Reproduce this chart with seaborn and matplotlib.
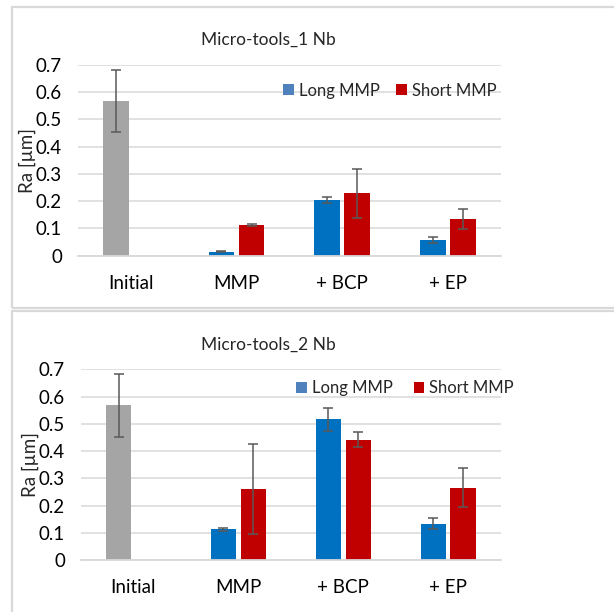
import numpy as np
import pandas as pd
import matplotlib
matplotlib.use("Agg")
import matplotlib.pyplot as plt
from matplotlib.patches import Rectangle, Patch
import seaborn as sns

# ---------------- data ----------------
categories = ["Initial", "MMP", "+ BCP", "+ EP"]
series_names = ["Long MMP", "Short MMP"]

tools1_long = [0.568, 0.015, 0.204, 0.056]
tools1_long_err = [0.115, 0.003, 0.012, 0.011]
tools1_short = [np.nan, 0.112, 0.229, 0.134]
tools1_short_err = [np.nan, 0.003, 0.090, 0.037]

tools2_long = [0.568, 0.113, 0.516, 0.133]
tools2_long_err = [0.115, 0.005, 0.041, 0.021]
tools2_short = [np.nan, 0.261, 0.442, 0.265]
tools2_short_err = [np.nan, 0.164, 0.028, 0.071]

titles = ["Micro-tools_1 Nb", "Micro-tools_2 Nb"]
yticks = [0, 0.1, 0.2, 0.3, 0.4, 0.5, 0.6, 0.7]
ytick_labels = ["0", "0.1", "0.2", "0.3", "0.4", "0.5", "0.6", "0.7"]

BLUE = "#0070C0"
RED = "#C00000"
GRAY = "#A5A5A5"
LEGEND_BLUE = "#4F81BD"
GRID = "#D9D9D9"
ERR = "#595959"

sns.set_style("white")
plt.rcParams["font.family"] = ["Lato", "DejaVu Sans"]

W, H = 614, 612
fig = plt.figure(figsize=(W / 100, H / 100), dpi=100)


def fx(px):
    return px / W


def fy(py):
    return 1 - py / H


# panel boxes
fig.patches.append(Rectangle((fx(12), fy(308)), fx(700), fy(7) - fy(308),
                             transform=fig.transFigure, fill=False,
                             edgecolor=GRID, lw=1.6, zorder=0))
fig.patches.append(Rectangle((fx(12), fy(700)), fx(700), fy(311) - fy(700),
                             transform=fig.transFigure, fill=False,
                             edgecolor=GRID, lw=1.6, zorder=0))

panels = [
    dict(long=tools1_long, long_err=tools1_long_err, short=tools1_short,
         short_err=tools1_short_err, rect=(78, 65, 500.7, 255.7),
         title_y=40, leg=(283, 90.7), title_x=268, colsp=1.0),
    dict(long=tools2_long, long_err=tools2_long_err, short=tools2_short,
         short_err=tools2_short_err, rect=(81, 369.3, 500.7, 560),
         title_y=345, leg=(296, 388), title_x=268, colsp=1.25),
]

for p, title in zip(panels, titles):
    x0, y0, x1, y1 = p["rect"]
    ax = fig.add_axes([fx(x0), fy(y1), fx(x1 - x0), fy(y0) - fy(y1)])
    df = pd.DataFrame({
        "cat": categories * 2,
        "series": [series_names[0]] * 4 + [series_names[1]] * 4,
        "val": list(p["long"]) + list(p["short"]),
        "err": list(p["long_err"]) + list(p["short_err"]),
    })
    sns.barplot(data=df, x="cat", y="val", hue="series", order=categories,
                hue_order=series_names, palette=[BLUE, RED], width=0.57,
                gap=0.15, errorbar=None, legend=False, ax=ax,
                saturation=1, zorder=2, linewidth=0)
    # error bars placed at bar centers from the library's own bar geometry
    for container, name in zip(ax.containers, series_names):
        sub = df[df["series"] == name].set_index("cat")
        for bar in container:
            h = bar.get_height()
            if np.isnan(h):
                continue
            cx = bar.get_x() + bar.get_width() / 2
            cat = categories[int(round(cx))]
            err = sub.loc[cat, "err"]
            if name == series_names[0] and cat == "Initial":
                bar.set_facecolor(GRAY)
            if np.isnan(err):
                continue
            ax.errorbar(cx, h, yerr=err, fmt="none",
                        ecolor=ERR, elinewidth=1.1, capsize=3.8,
                        capthick=1.1, zorder=3)

    ax.set_ylim(0, 0.7)
    ax.set_xlim(-0.5, 3.5)
    ax.set_yticks(yticks)
    ax.set_yticklabels(ytick_labels)
    ax.yaxis.grid(True, color=GRID, lw=1.1, zorder=0)
    ax.set_axisbelow(True)
    for s in ["top", "right", "left"]:
        ax.spines[s].set_visible(False)
    ax.spines["bottom"].set_color(GRID)
    ax.spines["bottom"].set_linewidth(1.3)
    ax.tick_params(axis="y", length=0, pad=11.5, labelsize=13.5, colors="#000000")
    ax.tick_params(axis="x", length=0, pad=14, labelsize=13.5, colors="#000000")
    ax.set_xlabel("")
    ax.set_ylabel("Ra [µm]", fontsize=13.5)
    ax.yaxis.set_label_coords(-0.10, 0.5)

    fig.text(fx(p["title_x"]), fy(p["title_y"]), title, ha="center",
             va="center", fontsize=12.5)

    handles = [Patch(facecolor=LEGEND_BLUE, edgecolor="none"),
               Patch(facecolor=RED, edgecolor="none")]
    lx, ly = p["leg"]
    ax.legend(handles, series_names, loc="center left",
              bbox_to_anchor=((lx - x0) / (x1 - x0), (y1 - ly) / (y1 - y0)),
              ncol=2, frameon=False, borderpad=0, borderaxespad=0,
              handlelength=0.65, handleheight=0.65, handletextpad=0.3,
              columnspacing=p["colsp"], fontsize=12)

fig.savefig("out.png", dpi=100)
